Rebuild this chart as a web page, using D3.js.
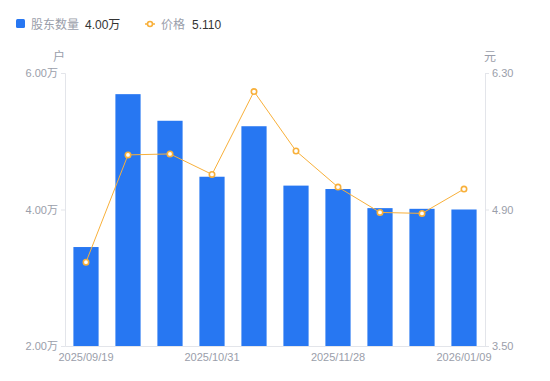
<!DOCTYPE html>
<html>
<head>
<meta charset="utf-8">
<script src="https://cdn.jsdelivr.net/npm/d3@7"></script>
<style>
  body { margin: 0; background: #fff; }
  svg { display: block; font-family: "Liberation Sans", "Noto Sans CJK SC", sans-serif; }
</style>
</head>
<body>
<svg width="550" height="381"></svg>
<script>
'use strict';

// data (intermediate dates are not shown on the axis)
var dates = ['2025/09/19', '2025/09/30', '2025/10/20', '2025/10/31', '2025/11/10',
             '2025/11/20', '2025/11/28', '2025/12/10', '2025/12/31', '2026/01/09'];
var holders = [3.45, 5.69, 5.30, 4.48, 5.22, 4.35, 4.30, 4.02, 4.01, 4.00]; // 万户
var prices = [4.36, 5.46, 5.47, 5.26, 6.11, 5.50, 5.13, 4.87, 4.86, 5.11];   // 元
var shownDates = ['2025/09/19', '2025/10/31', '2025/11/28', '2026/01/09'];
var leftTicks = [2, 4, 6];
var rightTicks = [3.5, 4.9, 6.3];

var barColor = '#2777f2';
var lineColor = '#f8b03a';
var axisColor = '#e3e5ea';
var labelColor = '#9a9eaa';

var svg = d3.select('svg');
var margin = {top: 73, right: 65, bottom: 35, left: 65};
var width = 550 - margin.left - margin.right;
var height = 381 - margin.top - margin.bottom;

var x = d3.scaleBand().domain(dates).range([0, width]).paddingInner(0.4).paddingOuter(0.2);
var yL = d3.scaleLinear().domain([2, 6]).range([height, 0]);
var yR = d3.scaleLinear().domain([3.5, 6.3]).range([height, 0]);

var g = svg.append('g')
  .attr('transform', 'translate(' + margin.left + ',' + margin.top + ')');

// bars
g.selectAll('.bar')
  .data(holders)
  .enter()
  .append('rect')
  .attr('class', 'bar')
  .attr('x', function(d, i) { return x(dates[i]); })
  .attr('y', function(d) { return yL(d); })
  .attr('width', x.bandwidth())
  .attr('height', function(d) { return height - yL(d); })
  .attr('fill', barColor);

// axes
function styleAxis(sel) {
  sel.select('.domain').attr('stroke', axisColor);
  sel.selectAll('.tick line').attr('stroke', axisColor);
  sel.selectAll('.tick text').attr('fill', labelColor).style('font-size', '11px')
    .style('font-family', '"Liberation Sans", "Noto Sans CJK SC", sans-serif');
}

g.append('g')
  .call(d3.axisLeft(yL).tickValues(leftTicks).tickSizeOuter(0).tickSize(4).tickPadding(3)
    .tickFormat(function(d) { return d3.format('.2f')(d) + '万'; }))
  .call(styleAxis);

g.append('g')
  .attr('transform', 'translate(' + width + ',0)')
  .call(d3.axisRight(yR).tickValues(rightTicks).tickSizeOuter(0).tickSize(4).tickPadding(3)
    .tickFormat(d3.format('.2f')))
  .call(styleAxis);

var bottomAxis = g.append('g')
  .attr('transform', 'translate(0,' + height + ')')
  .call(d3.axisBottom(x).tickValues(shownDates).tickSize(0).tickPadding(7))
  .call(styleAxis);
bottomAxis.selectAll('.tick text').attr('dy', '0.71em');

// price line
var line = d3.line()
  .x(function(d, i) { return x(dates[i]) + x.bandwidth() / 2; })
  .y(function(d) { return yR(d); });

g.append('path')
  .datum(prices)
  .attr('d', line)
  .attr('fill', 'none')
  .attr('stroke', lineColor)
  .attr('stroke-width', 1);

g.selectAll('.dot')
  .data(prices)
  .enter()
  .append('circle')
  .attr('class', 'dot')
  .attr('cx', function(d, i) { return x(dates[i]) + x.bandwidth() / 2; })
  .attr('cy', function(d) { return yR(d); })
  .attr('r', 2.7)
  .attr('fill', '#fff')
  .attr('stroke', lineColor)
  .attr('stroke-width', 1.6);

// axis names
svg.append('text').attr('x', 59).attr('y', 61).attr('text-anchor', 'middle')
  .attr('fill', labelColor).style('font-size', '12px').text('户');
svg.append('text').attr('x', 490).attr('y', 61).attr('text-anchor', 'middle')
  .attr('fill', labelColor).style('font-size', '12px').text('元');

// legend
var legend = svg.append('g');
legend.append('rect').attr('x', 16).attr('y', 19).attr('width', 9).attr('height', 9)
  .attr('rx', 1.5).attr('fill', barColor);
legend.append('text').attr('x', 31).attr('y', 28.5).attr('fill', labelColor)
  .style('font-size', '12px').text('股东数量');
legend.append('text').attr('x', 85).attr('y', 28.5).attr('fill', '#333')
  .style('font-size', '12px').text(d3.format('.2f')(holders[holders.length - 1]) + '万');

legend.append('line').attr('x1', 145).attr('x2', 155).attr('y1', 24).attr('y2', 24)
  .attr('stroke', lineColor).attr('stroke-width', 1.5);
legend.append('circle').attr('cx', 150).attr('cy', 24).attr('r', 2.5)
  .attr('fill', '#fff').attr('stroke', lineColor).attr('stroke-width', 1.6);
legend.append('text').attr('x', 161).attr('y', 28.5).attr('fill', labelColor)
  .style('font-size', '12px').text('价格');
legend.append('text').attr('x', 192).attr('y', 28.5).attr('fill', '#333')
  .style('font-size', '12px').text(d3.format('.3f')(prices[prices.length - 1]));
</script>
</body>
</html>
